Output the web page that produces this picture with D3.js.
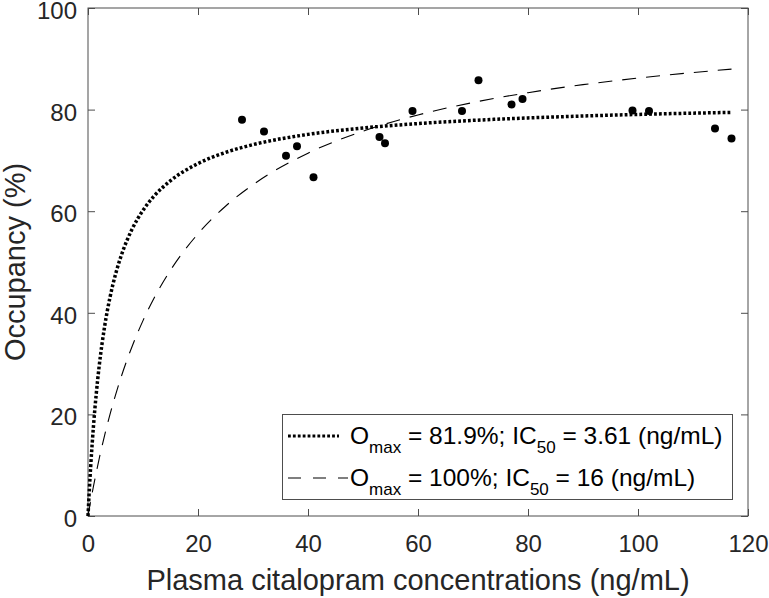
<!DOCTYPE html>
<html>
<head>
<meta charset="utf-8">
<script src="https://cdn.jsdelivr.net/npm/d3@7"></script>
<style>
  html, body { margin: 0; padding: 0; background: #fff; }
  svg { display: block; font-family: "Liberation Sans", Arial, sans-serif; }
  .axis path { display: none; }
  .axis line { stroke: #4d4d4d; }
  .axis text { fill: #262626; font-size: 24px; }
</style>
</head>
<body>
<svg id="chart" width="769" height="598"></svg>
<script>
// observed points
var concData = [28, 32, 36, 38, 41, 53, 54, 59, 68, 71, 77, 79, 99, 102, 114, 117];
var occData = [78, 75.7, 70.9, 72.8, 66.7, 74.6, 73.4, 79.7, 79.7, 85.8, 81, 82.1, 79.8, 79.7, 76.3, 74.3];

// fitted curves, values
var curveConc = [0, 0.25, 0.5, 1, 1.5, 2, 3, 4, 5, 6, 8, 10, 12, 15, 20, 25, 30, 40, 50, 60, 70, 80, 90, 100, 110, 117];
var fit1Occ = [0, 5.3, 9.96, 17.77, 24.05, 29.2, 37.17, 43.05, 47.56, 51.13, 56.43, 60.18, 62.96, 66.01, 69.38, 71.57, 73.1, 75.12, 76.38, 77.25, 77.88, 78.36, 78.74, 79.05, 79.3, 79.45];
var fit2Occ = [0, 1.54, 3.03, 5.88, 8.57, 11.11, 15.79, 20, 23.81, 27.27, 33.33, 38.46, 42.86, 48.39, 55.56, 60.98, 65.22, 71.43, 75.76, 78.95, 81.4, 83.33, 84.91, 86.21, 87.3, 87.97];

var xTicks = [0, 20, 40, 60, 80, 100, 120];
var yTicks = [0, 20, 40, 60, 80, 100];
var legendOmax = ['81.9%', '100%'];
var legendIC50 = ['3.61', '16'];

var svg = d3.select('#chart');
var m = {left: 88, top: 8, right: 748, bottom: 516};

var x = d3.scaleLinear().domain([0, 120]).range([m.left, m.right]);
var y = d3.scaleLinear().domain([0, 100]).range([m.bottom, m.top]);

// ticks point inwards, on all four sides
svg.append('g').attr('class', 'axis')
    .attr('transform', 'translate(0,' + m.bottom + ')')
    .call(d3.axisBottom(x).tickValues(xTicks).tickSizeInner(-7).tickSizeOuter(0).tickPadding(19))
    .selectAll('text').attr('dy', '0.71em');
svg.append('g').attr('class', 'axis')
    .attr('transform', 'translate(0,' + m.top + ')')
    .call(d3.axisTop(x).tickValues(xTicks).tickSizeInner(-7).tickSizeOuter(0).tickFormat(''));
svg.append('g').attr('class', 'axis')
    .attr('transform', 'translate(' + m.left + ',0)')
    .call(d3.axisLeft(y).tickValues(yTicks).tickSizeInner(-7).tickSizeOuter(0).tickPadding(11))
    .selectAll('text').attr('dy', '0.44em');
svg.append('g').attr('class', 'axis')
    .attr('transform', 'translate(' + m.right + ',0)')
    .call(d3.axisRight(y).tickValues(yTicks).tickSizeInner(-7).tickSizeOuter(0).tickFormat(''));

svg.append('rect')
    .attr('x', m.left).attr('y', m.top)
    .attr('width', m.right - m.left).attr('height', m.bottom - m.top)
    .attr('fill', 'none').attr('stroke', '#4d4d4d').attr('stroke-width', 1);

var line = function (ys) {
    return d3.line()
        .x(function (d, i) { return x(curveConc[i]); })
        .y(function (d) { return y(d); })
        .curve(d3.curveMonotoneX)(ys);
};

svg.append('path')
    .attr('d', line(fit2Occ))
    .attr('fill', 'none').attr('stroke', '#000')
    .attr('stroke-width', 1.1).attr('stroke-dasharray', '14,10');
svg.append('path')
    .attr('d', line(fit1Occ))
    .attr('fill', 'none').attr('stroke', '#000')
    .attr('stroke-width', 3.5).attr('stroke-dasharray', '2.8,2.1');

svg.append('g').selectAll('circle')
    .data(concData)
    .join('circle')
    .attr('cx', function (d) { return x(d); })
    .attr('cy', function (d, i) { return y(occData[i]); })
    .attr('r', 4)
    .attr('fill', '#000');

// axis titles
svg.append('text')
    .attr('x', (m.left + m.right) / 2).attr('y', 590)
    .attr('text-anchor', 'middle').attr('fill', '#262626')
    .style('font-size', '29px')
    .text('Plasma citalopram concentrations (ng/mL)');
svg.append('text')
    .attr('transform', 'translate(25,' + (m.top + m.bottom) / 2 + ') rotate(-90)')
    .attr('text-anchor', 'middle').attr('fill', '#262626')
    .style('font-size', '29px')
    .text('Occupancy (%)');

// legend
var leg = svg.append('g');
leg.append('rect')
    .attr('x', 282.5).attr('y', 414.5).attr('width', 450).attr('height', 85)
    .attr('fill', '#fff').attr('stroke', '#4d4d4d').attr('stroke-width', 1);

var rowY = [436, 478];
var sampleDash = [['2.8,2.1', 3.2], ['13,12', 1.1]];
legendOmax.forEach(function (om, i) {
    leg.append('line')
        .attr('x1', 288).attr('x2', i === 0 ? 339 : 348)
        .attr('y1', rowY[i]).attr('y2', rowY[i])
        .attr('stroke', '#000')
        .attr('stroke-width', sampleDash[i][1])
        .attr('stroke-dasharray', sampleDash[i][0]);
    var t = leg.append('text')
        .attr('x', 350).attr('y', rowY[i] + 8)
        .attr('fill', '#000').style('font-size', '24.5px');
    t.append('tspan').text('O');
    t.append('tspan').attr('dy', 9).style('font-size', '17px').text('max');
    t.append('tspan').attr('dy', -9).text(' = ' + om + '; IC');
    t.append('tspan').attr('dy', 9).style('font-size', '17px').text('50');
    t.append('tspan').attr('dy', -9).text(' = ' + legendIC50[i] + ' (ng/mL)');
});
</script>
</body>
</html>
